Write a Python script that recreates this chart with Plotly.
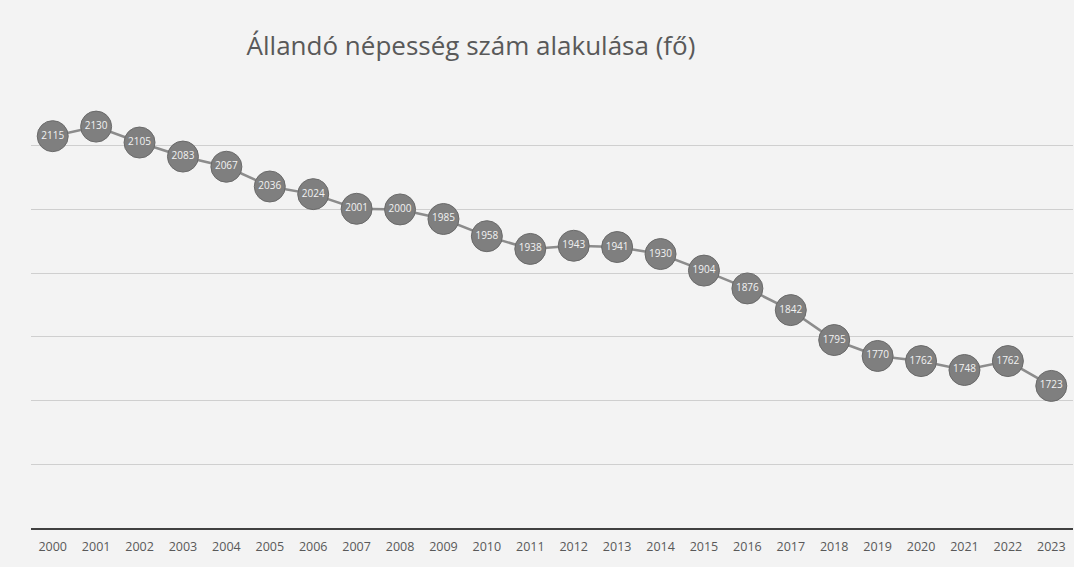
import plotly.graph_objects as go

years = [str(y) for y in range(2000, 2024)]
population = [2115, 2130, 2105, 2083, 2067, 2036, 2024, 2001, 2000, 1985, 1958,
              1938, 1943, 1941, 1930, 1904, 1876, 1842, 1795, 1770, 1762, 1748,
              1762, 1723]
y_ticks = [1500, 1600, 1700, 1800, 1900, 2000, 2100, 2200]
title_text = "Állandó népesség szám alakulása (fő)"

fig = go.Figure()
fig.add_trace(go.Scatter(
    x=years, y=population,
    mode="lines+markers+text",
    line=dict(color="#8c8c8c", width=2.5),
    marker=dict(size=31, color="#7f7f7f", line=dict(color="#6a6a6a", width=1)),
    text=[str(v) for v in population],
    textposition="middle center",
    textfont=dict(family="Open Sans, sans-serif", size=10, color="#f2f2f2"),
    cliponaxis=False,
    hoverinfo="x+y",
))

fig.update_layout(
    width=1074, height=567,
    paper_bgcolor="#f3f3f3",
    plot_bgcolor="#f3f3f3",
    margin=dict(l=31, r=1, t=82, b=39),
    showlegend=False,
    title=dict(text=title_text, x=471 / 1074, xanchor="center", y=1 - 46 / 567,
               yanchor="middle",
               font=dict(family="Open Sans, sans-serif", size=26, color="#595959")),
    xaxis=dict(type="category", range=[-0.5, 23.5], showgrid=False,
               showline=True, linecolor="#404040", linewidth=2, ticks="",
               ticklabelstandoff=6,
               tickfont=dict(family="Open Sans, sans-serif", size=12.5, color="#595959")),
    yaxis=dict(range=[1500, 2200], tickvals=y_ticks, showticklabels=False,
               showgrid=True, gridcolor="#cfcfcf", gridwidth=1, zeroline=False,
               showline=False),
)

fig.write_html("out.html", config={"displayModeBar": False},
               post_script="document.body.style.margin='0';document.body.style.overflow='hidden';")
